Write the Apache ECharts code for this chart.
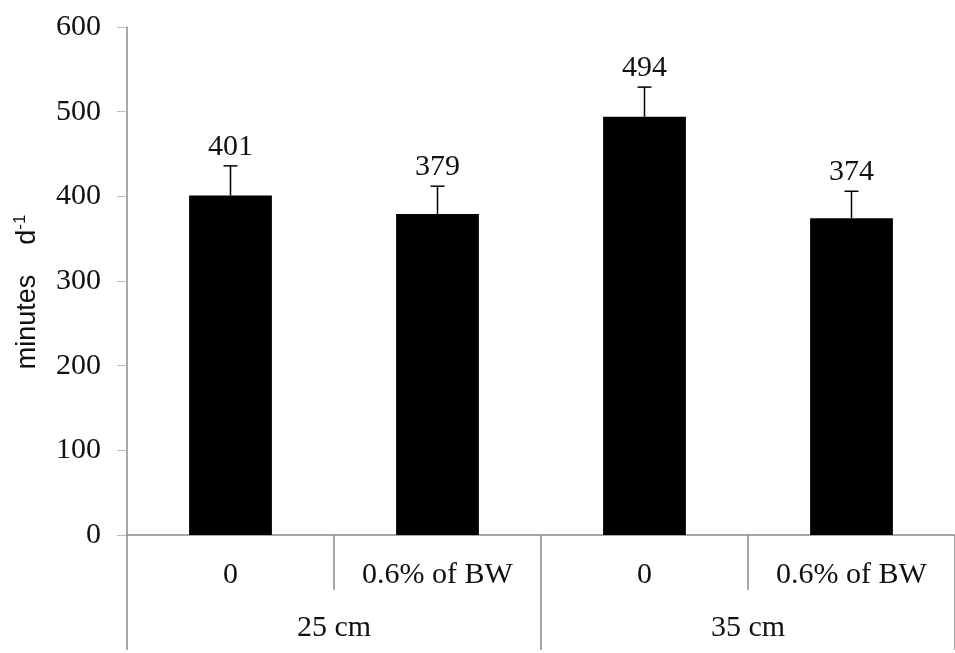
<!DOCTYPE html>
<html>
<head>
<meta charset="utf-8">
<script src="https://cdn.jsdelivr.net/npm/echarts@6/dist/echarts.min.js"></script>
<style>
  html, body { margin: 0; padding: 0; background: #fff; }
  #chart { width: 955px; height: 653px; }
</style>
</head>
<body>
<div id="chart"></div>
<script>
// data
var doseLabels = ['0', '0.6% of BW', '0', '0.6% of BW'];
var heightGroups = ['25 cm', '35 cm'];
var minutesPerDay = [401, 379, 494, 374];
var errorUp = [35, 33, 35, 32];
var yTicks = [0, 100, 200, 300, 400, 500, 600];

var serif = '"Liberation Serif", "Times New Roman", serif';
var sans = '"Liberation Sans", Arial, sans-serif';
var axisGray = '#8a8a8a';

var chart = echarts.init(document.getElementById('chart'));

// error bars + value labels, drawn from the value scale
function renderErr(params, api) {
  var i = api.value(0);
  var v = api.value(1);
  var e = api.value(2);
  var base = api.coord([i, v]);
  var top = api.coord([i, v + e]);
  var cap = 7;
  return {
    type: 'group',
    children: [
      { type: 'line', shape: { x1: base[0], y1: base[1], x2: top[0], y2: top[1] },
        style: { stroke: '#000', lineWidth: 1.5 } },
      { type: 'line', shape: { x1: top[0] - cap, y1: top[1], x2: top[0] + cap, y2: top[1] },
        style: { stroke: '#000', lineWidth: 1.5 } },
      { type: 'text', x: top[0], y: top[1] - 4,
        style: { text: String(v), fill: '#111', font: '30px ' + serif,
                 textAlign: 'center', textVerticalAlign: 'bottom' } }
    ]
  };
}

var option = {
  backgroundColor: '#fff',
  animation: false,
  grid: { left: 127, right: 0, top: 27, bottom: 118, containLabel: false, outerBoundsMode: 'none' },
  xAxis: [
    {
      type: 'category',
      data: doseLabels,
      position: 'bottom',
      axisLine: { lineStyle: { color: axisGray, width: 1.5 } },
      axisTick: { show: true, length: 55, lineStyle: { color: axisGray, width: 1.5 } },
      axisLabel: { color: '#111', fontFamily: serif, fontSize: 30, margin: 25, interval: 0 },
      splitLine: { show: false }
    },
    {
      type: 'category',
      data: heightGroups,
      position: 'bottom',
      axisLine: { show: false },
      axisTick: { show: true, length: 115, lineStyle: { color: axisGray, width: 1.5 } },
      axisLabel: { color: '#111', fontFamily: serif, fontSize: 30, margin: 78, interval: 0 },
      splitLine: { show: false }
    }
  ],
  yAxis: {
    type: 'value',
    min: 0,
    max: 600,
    interval: 100,
    axisLine: { show: true, lineStyle: { color: axisGray, width: 1.5 } },
    axisTick: { show: true, length: 10, lineStyle: { color: '#bbb', width: 1 } },
    axisLabel: { color: '#111', fontFamily: serif, fontSize: 30, margin: 26,
      formatter: function (v) { return yTicks.indexOf(v) >= 0 ? String(v) : ''; } },
    splitLine: { show: false },
    name: '{a|minutes    d}{b|-1}',
    nameLocation: 'middle',
    nameGap: 83,
    nameRotate: 90,
    nameTextStyle: {
      padding: [0, 22, 0, 0],
      rich: {
        a: { fontFamily: sans, fontSize: 27, color: '#111', lineHeight: 32 },
        b: { fontFamily: sans, fontSize: 17, color: '#111', lineHeight: 32, verticalAlign: 'top' }
      }
    }
  },
  series: [
    {
      type: 'bar',
      xAxisIndex: 0,
      data: minutesPerDay,
      barWidth: '40%',
      itemStyle: { color: '#000' },
      z: 2
    },
    {
      type: 'custom',
      xAxisIndex: 0,
      renderItem: renderErr,
      data: minutesPerDay.map(function (v, i) { return [i, v, errorUp[i]]; }),
      z: 3
    }
  ]
};

chart.setOption(option);
</script>
</body>
</html>
